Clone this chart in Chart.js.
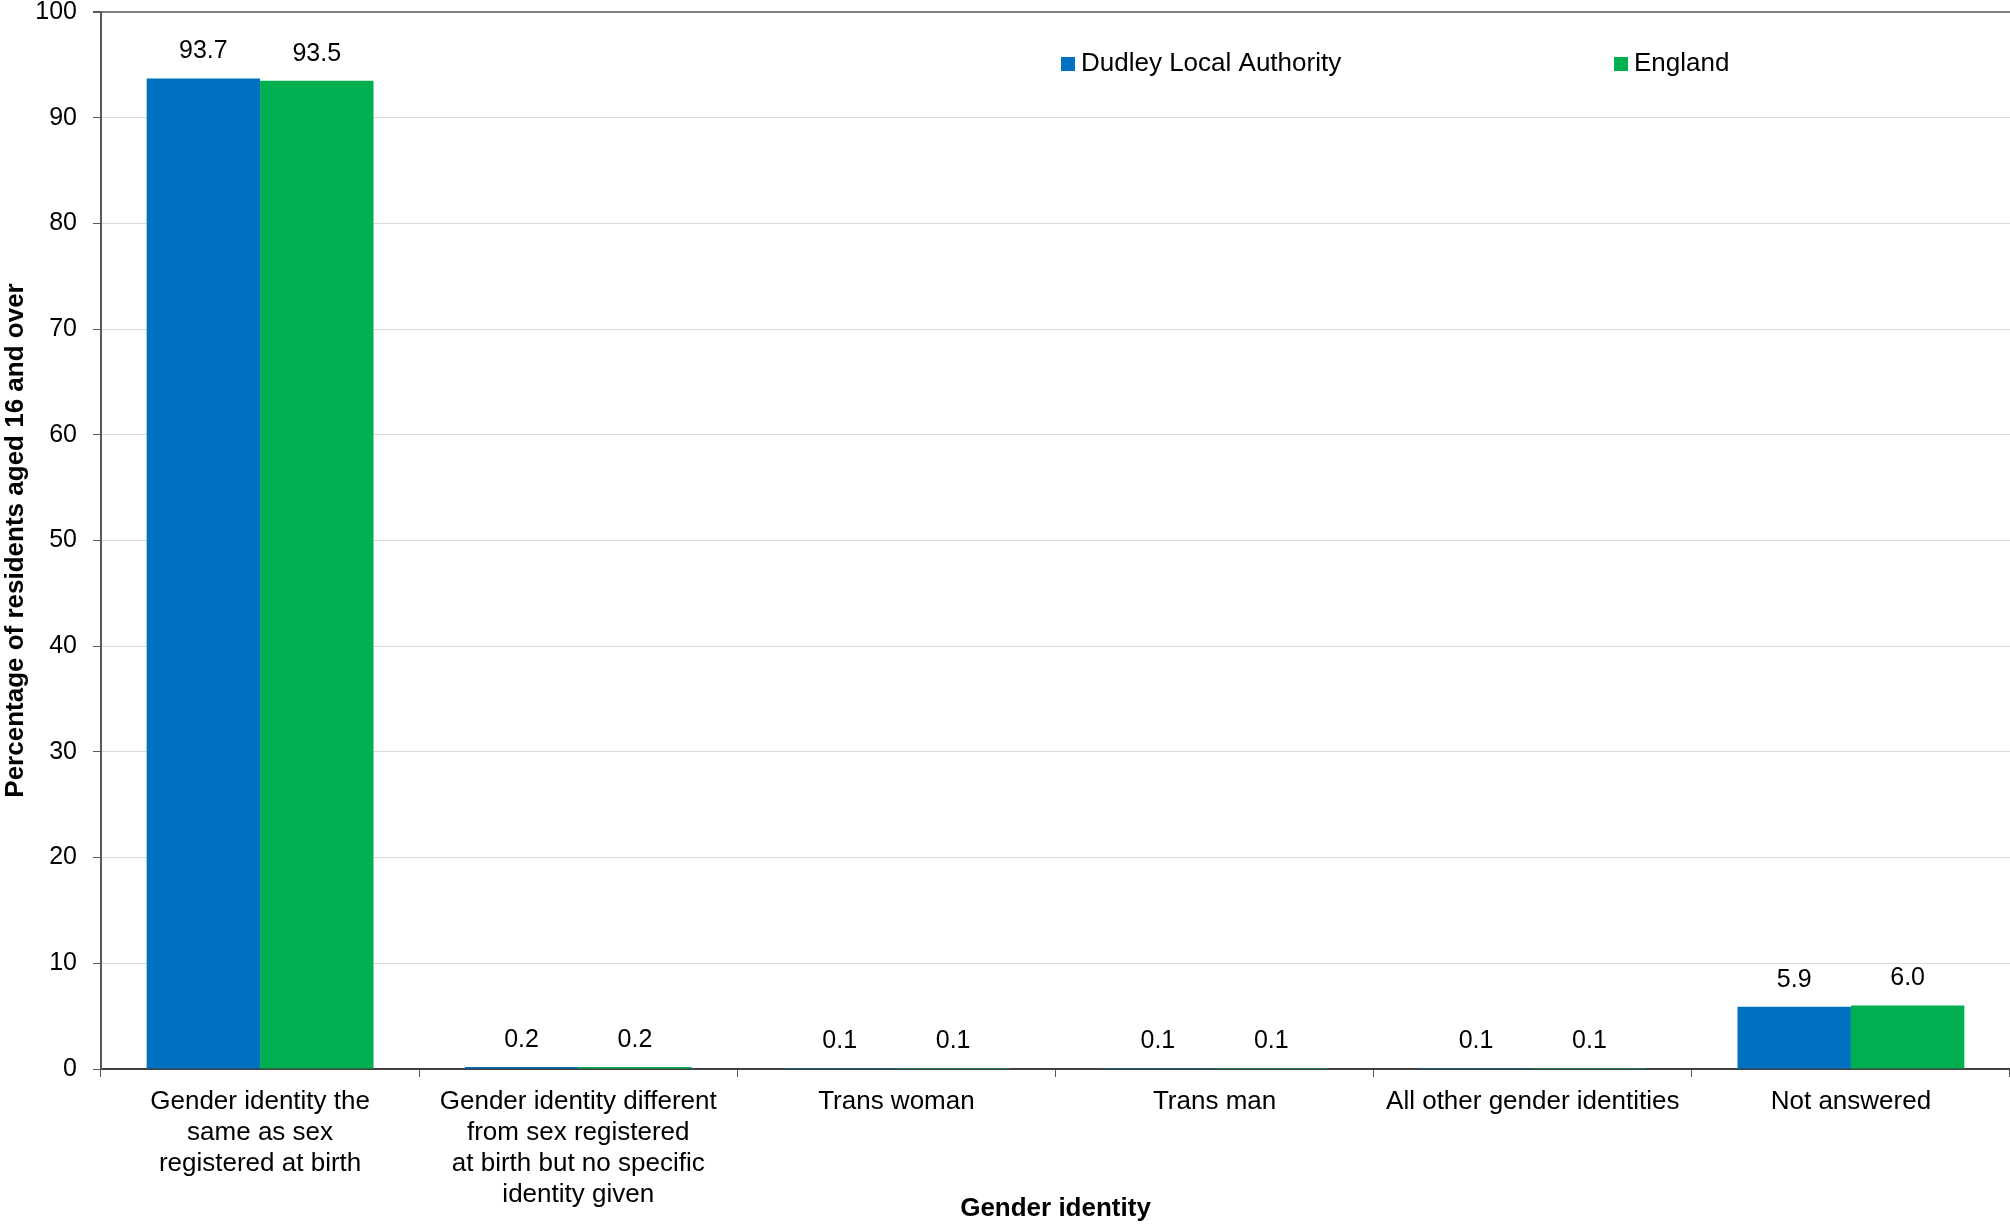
<!DOCTYPE html>
<html>
<head>
<meta charset="utf-8">
<script src="https://cdn.jsdelivr.net/npm/chart.js@4"></script>
<style>
  body { margin: 0; background: #fff; }
  #wrap { width: 2010px; height: 1224px; }
</style>
</head>
<body>
<div id="wrap"><canvas id="chart" width="2010" height="1224"></canvas></div>
<script>
// categories (multi-line tick labels)
const categories = [
    ['Gender identity the', 'same as sex', 'registered at birth'],
    ['Gender identity different', 'from sex registered', 'at birth but no specific', 'identity given'],
    'Trans woman',
    'Trans man',
    'All other gender identities',
    'Not answered'
];
const seriesNames = ['Dudley Local Authority', 'England'];
const dudleyValues = [93.7, 0.2, 0.1, 0.1, 0.1, 5.9];
const englandValues = [93.5, 0.2, 0.1, 0.1, 0.1, 6.0];
const seriesColors = ['#0070C0', '#00B050'];

const FONT = 'Liberation Sans, Arial, sans-serif';

// value labels above each bar
const barLabels = {
    id: 'barLabels',
    afterDatasetsDraw(chart) {
        const ctx = chart.ctx;
        ctx.save();
        ctx.font = '25px ' + FONT;
        ctx.fillStyle = '#000';
        ctx.textAlign = 'center';
        ctx.textBaseline = 'middle';
        chart.data.datasets.forEach((ds, i) => {
            chart.getDatasetMeta(i).data.forEach((bar, j) => {
                ctx.fillText(ds.data[j].toFixed(1), bar.x, bar.y - 27);
            });
        });
        ctx.restore();
    }
};

// legend sits inside the plot area, near the top
const insideLegend = {
    id: 'insideLegend',
    afterDraw(chart) {
        const ctx = chart.ctx;
        const area = chart.chartArea;
        const xs = [area.left + 960, area.left + 1513];
        const y = area.top + 52;
        ctx.save();
        ctx.font = '26px ' + FONT;
        ctx.textBaseline = 'middle';
        chart.data.datasets.forEach((ds, i) => {
            ctx.fillStyle = ds.backgroundColor;
            ctx.fillRect(xs[i], y - 7, 14, 14);
            ctx.fillStyle = '#000';
            ctx.fillText(ds.label, xs[i] + 20, y);
        });
        ctx.restore();
    }
};

new Chart(document.getElementById('chart'), {
    type: 'bar',
    data: {
        labels: categories,
        datasets: [
            { label: seriesNames[0], data: dudleyValues, backgroundColor: seriesColors[0] },
            { label: seriesNames[1], data: englandValues, backgroundColor: seriesColors[1] }
        ]
    },
    options: {
        responsive: false,
        animation: false,
        layout: { padding: { top: 12, left: 0, right: 0, bottom: 0 } },
        datasets: {
            bar: { categoryPercentage: 0.713, barPercentage: 1.0 }
        },
        plugins: {
            legend: { display: false },
            tooltip: { enabled: false }
        },
        scales: {
            x: {
                grid: {
                    drawOnChartArea: false,
                    drawTicks: true,
                    tickLength: 8,
                    tickColor: '#595959',
                    offset: true
                },
                border: { color: '#404040', width: 2 },
                ticks: {
                    color: '#000',
                    font: { family: FONT, size: 26 },
                    padding: 9,
                    maxRotation: 0,
                    autoSkip: false
                },
                title: {
                    display: true,
                    text: 'Gender identity',
                    color: '#000',
                    font: { family: FONT, size: 26, weight: 'bold' },
                    padding: { top: 0, bottom: 0 }
                },
                afterFit(scale) {
                    scale.height = 155;
                    scale.paddingLeft = 0;
                    scale.paddingRight = 0;
                }
            },
            y: {
                min: 0,
                max: 100,
                ticks: {
                    stepSize: 10,
                    color: '#000',
                    font: { family: FONT, size: 25 },
                    padding: 16
                },
                grid: {
                    color: ctx => (ctx.tick && ctx.tick.value === 100) ? '#808080' : '#d9d9d9',
                    lineWidth: ctx => (ctx.tick && ctx.tick.value === 100) ? 2 : 1,
                    tickColor: '#595959',
                    tickLength: 8
                },
                border: { color: '#595959', width: 2 },
                title: {
                    display: true,
                    text: 'Percentage of residents aged 16 and over',
                    color: '#000',
                    font: { family: FONT, size: 26, weight: 'bold' },
                    padding: { top: 0, bottom: 0 }
                },
                afterFit(scale) {
                    scale.width = 101;
                    scale.paddingTop = 0;
                    scale.paddingBottom = 0;
                }
            }
        }
    },
    plugins: [barLabels, insideLegend]
});
</script>
</body>
</html>
